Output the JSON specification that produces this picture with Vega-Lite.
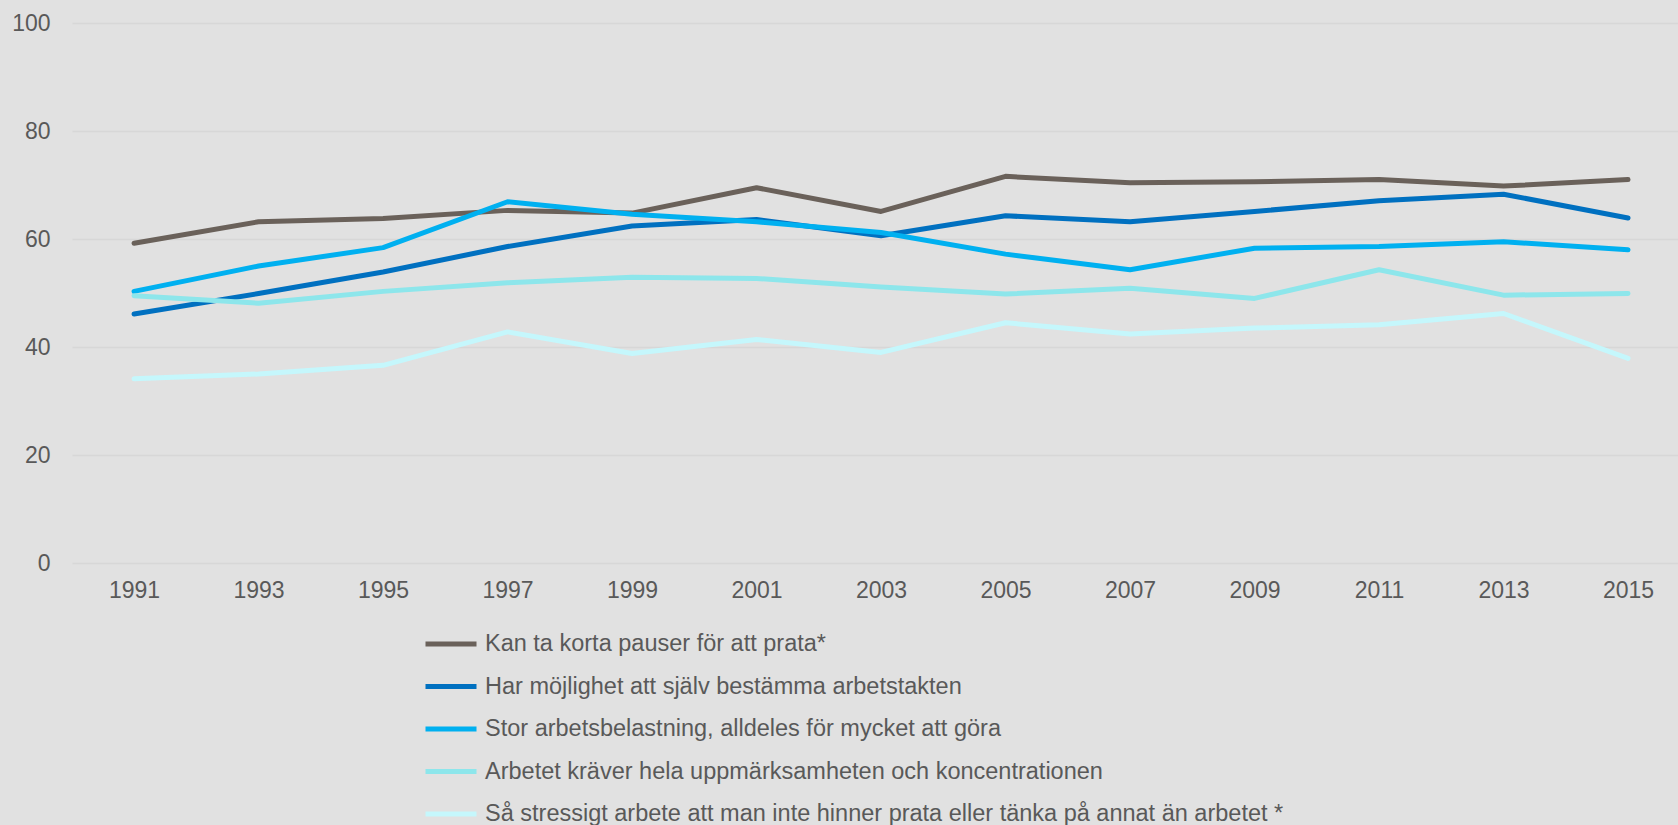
{
  "$schema": "https://vega.github.io/schema/vega-lite/v6.json",
  "width": 1606,
  "height": 540,
  "autosize": {"type": "none"},
  "padding": {"left": 72, "top": 23, "right": 0, "bottom": 262},
  "background": "#e1e1e1",
  "config": {
    "view": {"stroke": null},
    "font": "Liberation Sans",
    "axis": {"labelFont": "Liberation Sans", "labelColor": "#595959", "labelFontSize": 23}
  },
  "data": {
    "values": [
      {"year": "1991", "serie": "Kan ta korta pauser för att prata*", "value": 59.2},
      {"year": "1993", "serie": "Kan ta korta pauser för att prata*", "value": 63.2},
      {"year": "1995", "serie": "Kan ta korta pauser för att prata*", "value": 63.8},
      {"year": "1997", "serie": "Kan ta korta pauser för att prata*", "value": 65.3},
      {"year": "1999", "serie": "Kan ta korta pauser för att prata*", "value": 64.8},
      {"year": "2001", "serie": "Kan ta korta pauser för att prata*", "value": 69.5},
      {"year": "2003", "serie": "Kan ta korta pauser för att prata*", "value": 65.1},
      {"year": "2005", "serie": "Kan ta korta pauser för att prata*", "value": 71.6},
      {"year": "2007", "serie": "Kan ta korta pauser för att prata*", "value": 70.4},
      {"year": "2009", "serie": "Kan ta korta pauser för att prata*", "value": 70.6},
      {"year": "2011", "serie": "Kan ta korta pauser för att prata*", "value": 71.0},
      {"year": "2013", "serie": "Kan ta korta pauser för att prata*", "value": 69.8},
      {"year": "2015", "serie": "Kan ta korta pauser för att prata*", "value": 71.0},

      {"year": "1991", "serie": "Har möjlighet att själv bestämma arbetstakten", "value": 46.1},
      {"year": "1993", "serie": "Har möjlighet att själv bestämma arbetstakten", "value": 49.9},
      {"year": "1995", "serie": "Har möjlighet att själv bestämma arbetstakten", "value": 53.9},
      {"year": "1997", "serie": "Har möjlighet att själv bestämma arbetstakten", "value": 58.6},
      {"year": "1999", "serie": "Har möjlighet att själv bestämma arbetstakten", "value": 62.4},
      {"year": "2001", "serie": "Har möjlighet att själv bestämma arbetstakten", "value": 63.6},
      {"year": "2003", "serie": "Har möjlighet att själv bestämma arbetstakten", "value": 60.6},
      {"year": "2005", "serie": "Har möjlighet att själv bestämma arbetstakten", "value": 64.3},
      {"year": "2007", "serie": "Har möjlighet att själv bestämma arbetstakten", "value": 63.2},
      {"year": "2009", "serie": "Har möjlighet att själv bestämma arbetstakten", "value": 65.1},
      {"year": "2011", "serie": "Har möjlighet att själv bestämma arbetstakten", "value": 67.1},
      {"year": "2013", "serie": "Har möjlighet att själv bestämma arbetstakten", "value": 68.3},
      {"year": "2015", "serie": "Har möjlighet att själv bestämma arbetstakten", "value": 63.9},

      {"year": "1991", "serie": "Stor arbetsbelastning, alldeles för mycket att göra", "value": 50.3},
      {"year": "1993", "serie": "Stor arbetsbelastning, alldeles för mycket att göra", "value": 55.0},
      {"year": "1995", "serie": "Stor arbetsbelastning, alldeles för mycket att göra", "value": 58.4},
      {"year": "1997", "serie": "Stor arbetsbelastning, alldeles för mycket att göra", "value": 66.9},
      {"year": "1999", "serie": "Stor arbetsbelastning, alldeles för mycket att göra", "value": 64.6},
      {"year": "2001", "serie": "Stor arbetsbelastning, alldeles för mycket att göra", "value": 63.2},
      {"year": "2003", "serie": "Stor arbetsbelastning, alldeles för mycket att göra", "value": 61.2},
      {"year": "2005", "serie": "Stor arbetsbelastning, alldeles för mycket att göra", "value": 57.2},
      {"year": "2007", "serie": "Stor arbetsbelastning, alldeles för mycket att göra", "value": 54.3},
      {"year": "2009", "serie": "Stor arbetsbelastning, alldeles för mycket att göra", "value": 58.3},
      {"year": "2011", "serie": "Stor arbetsbelastning, alldeles för mycket att göra", "value": 58.6},
      {"year": "2013", "serie": "Stor arbetsbelastning, alldeles för mycket att göra", "value": 59.5},
      {"year": "2015", "serie": "Stor arbetsbelastning, alldeles för mycket att göra", "value": 58.0},

      {"year": "1991", "serie": "Arbetet kräver hela uppmärksamheten och koncentrationen", "value": 49.5},
      {"year": "1993", "serie": "Arbetet kräver hela uppmärksamheten och koncentrationen", "value": 48.1},
      {"year": "1995", "serie": "Arbetet kräver hela uppmärksamheten och koncentrationen", "value": 50.3},
      {"year": "1997", "serie": "Arbetet kräver hela uppmärksamheten och koncentrationen", "value": 51.9},
      {"year": "1999", "serie": "Arbetet kräver hela uppmärksamheten och koncentrationen", "value": 52.9},
      {"year": "2001", "serie": "Arbetet kräver hela uppmärksamheten och koncentrationen", "value": 52.7},
      {"year": "2003", "serie": "Arbetet kräver hela uppmärksamheten och koncentrationen", "value": 51.1},
      {"year": "2005", "serie": "Arbetet kräver hela uppmärksamheten och koncentrationen", "value": 49.8},
      {"year": "2007", "serie": "Arbetet kräver hela uppmärksamheten och koncentrationen", "value": 50.9},
      {"year": "2009", "serie": "Arbetet kräver hela uppmärksamheten och koncentrationen", "value": 49.0},
      {"year": "2011", "serie": "Arbetet kräver hela uppmärksamheten och koncentrationen", "value": 54.3},
      {"year": "2013", "serie": "Arbetet kräver hela uppmärksamheten och koncentrationen", "value": 49.6},
      {"year": "2015", "serie": "Arbetet kräver hela uppmärksamheten och koncentrationen", "value": 49.9},

      {"year": "1991", "serie": "Så stressigt arbete att man inte hinner prata eller tänka på annat än arbetet *", "value": 34.1},
      {"year": "1993", "serie": "Så stressigt arbete att man inte hinner prata eller tänka på annat än arbetet *", "value": 35.0},
      {"year": "1995", "serie": "Så stressigt arbete att man inte hinner prata eller tänka på annat än arbetet *", "value": 36.6},
      {"year": "1997", "serie": "Så stressigt arbete att man inte hinner prata eller tänka på annat än arbetet *", "value": 42.8},
      {"year": "1999", "serie": "Så stressigt arbete att man inte hinner prata eller tänka på annat än arbetet *", "value": 38.8},
      {"year": "2001", "serie": "Så stressigt arbete att man inte hinner prata eller tänka på annat än arbetet *", "value": 41.4},
      {"year": "2003", "serie": "Så stressigt arbete att man inte hinner prata eller tänka på annat än arbetet *", "value": 39.0},
      {"year": "2005", "serie": "Så stressigt arbete att man inte hinner prata eller tänka på annat än arbetet *", "value": 44.5},
      {"year": "2007", "serie": "Så stressigt arbete att man inte hinner prata eller tänka på annat än arbetet *", "value": 42.4},
      {"year": "2009", "serie": "Så stressigt arbete att man inte hinner prata eller tänka på annat än arbetet *", "value": 43.5},
      {"year": "2011", "serie": "Så stressigt arbete att man inte hinner prata eller tänka på annat än arbetet *", "value": 44.1},
      {"year": "2013", "serie": "Så stressigt arbete att man inte hinner prata eller tänka på annat än arbetet *", "value": 46.2},
      {"year": "2015", "serie": "Så stressigt arbete att man inte hinner prata eller tänka på annat än arbetet *", "value": 37.9}
    ]
  },
  "mark": {"type": "line", "strokeWidth": 5, "strokeCap": "round", "strokeJoin": "round"},
  "encoding": {
    "x": {
      "field": "year",
      "type": "ordinal",
      "scale": {"type": "point", "padding": 0.45, "align": 0.554},
      "axis": {"title": null, "labelAngle": 0, "ticks": false, "domain": false, "grid": false, "labelPadding": 16}
    },
    "y": {
      "field": "value",
      "type": "quantitative",
      "scale": {"domain": [0, 100], "nice": false},
      "axis": {"title": null, "values": [0, 20, 40, 60, 80, 100], "ticks": false, "domain": false, "grid": true, "gridColor": "#d7d7d7", "gridWidth": 1.5, "labelPadding": 22}
    },
    "color": {
      "field": "serie",
      "type": "nominal",
      "sort": null,
      "scale": {
        "domain": [
          "Kan ta korta pauser för att prata*",
          "Har möjlighet att själv bestämma arbetstakten",
          "Stor arbetsbelastning, alldeles för mycket att göra",
          "Arbetet kräver hela uppmärksamheten och koncentrationen",
          "Så stressigt arbete att man inte hinner prata eller tänka på annat än arbetet *"
        ],
        "range": ["#6a615a", "#0070c0", "#00b0f0", "#8de6eb", "#c5f7fc"]
      },
      "legend": {
        "title": null,
        "orient": "none",
        "legendX": 351,
        "legendY": 593,
        "padding": 0,
        "symbolType": "stroke",
        "symbolSize": 2601,
        "symbolStrokeWidth": 5,
        "labelFont": "Liberation Sans",
        "labelFontSize": 23.5,
        "labelColor": "#595959",
        "labelOffset": 6,
        "labelLimit": 1200,
        "rowPadding": 2.5
      }
    }
  }
}
